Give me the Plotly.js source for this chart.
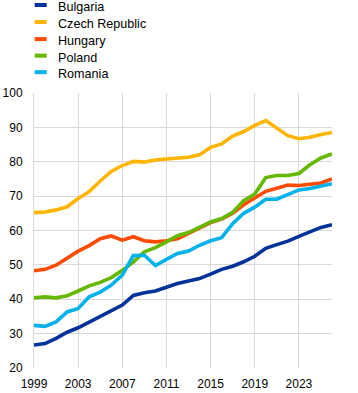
<!DOCTYPE html>
<html>
<head>
<meta charset="utf-8">
<script src="https://cdn.plot.ly/plotly-3.0.1.min.js"></script>
<style>
html,body{margin:0;padding:0;background:#fff;}
#chart{width:358px;height:393px;}
</style>
</head>
<body>
<div id="chart"></div>
<script>
const years = [1999,2000,2001,2002,2003,2004,2005,2006,2007,2008,2009,2010,2011,2012,2013,2014,2015,2016,2017,2018,2019,2020,2021,2022,2023,2024,2025,2026];
const seriesNames = ["Bulgaria","Czech Republic","Hungary","Poland","Romania"];
const bulgaria = [26.7,27.1,28.6,30.4,31.7,33.4,35.1,36.6,38.3,41.1,41.9,42.4,43.4,44.6,45.3,46.0,47.3,48.7,49.6,50.9,52.5,54.8,55.9,56.9,58.3,59.6,60.9,61.7];
const czech = [65.2,65.4,66.0,66.9,69.3,71.3,74.4,77.2,78.9,80.1,79.9,80.5,80.8,81.0,81.3,82.0,84.2,85.2,87.5,88.8,90.6,92.0,89.8,87.6,86.7,87.1,87.9,88.5];
const hungary = [48.3,48.7,49.9,52.0,54.0,55.6,57.6,58.4,57.2,58.2,57.0,56.7,57.0,57.6,59.1,60.8,62.3,63.3,65.0,67.5,69.5,71.4,72.3,73.2,73.1,73.4,73.8,75.0];
const poland = [40.4,40.7,40.4,41.0,42.4,43.9,44.9,46.3,48.4,50.8,53.8,55.0,56.7,58.5,59.4,61.0,62.5,63.5,65.3,68.7,70.6,75.4,76.0,76.0,76.6,79.1,81.1,82.3];
const romania = [32.4,32.1,33.4,36.3,37.3,40.7,42.1,44.1,47.0,52.7,52.8,49.8,51.6,53.3,54.0,55.7,57.0,57.9,62.0,65.0,66.8,69.1,69.1,70.4,71.8,72.2,72.8,73.6];
const xTickVals = [1999,2003,2007,2011,2015,2019,2023];
const yTickVals = [20,30,40,50,60,70,80,90,100];

const colors = ["#003299","#FFB400","#FF4B00","#65B800","#00B1EA"];
const values = [bulgaria, czech, hungary, poland, romania];
const traces = values.map((v, i) => ({
  x: years, y: v, type: 'scatter', mode: 'lines', name: seriesNames[i],
  line: {color: colors[i], width: 3.6}, showlegend: false, hoverinfo: 'skip'
}));

const L = 34.3, T = 93.3, W = 297.4, H = 274.4;
const legendY = [7.5, 24.5, 41.5, 58, 74.5];
const shapes = [], annotations = [];
seriesNames.forEach((n, i) => {
  const py = legendY[i] - 2;
  const yp = (T + H - py) / H;
  shapes.push({type:'line', xref:'paper', yref:'paper', x0:(35-L)/W, x1:(47-L)/W, y0:yp, y1:yp,
    line:{color:colors[i], width:4}});
  annotations.push({xref:'paper', yref:'paper', x:(56.5-L)/W, y:(T + H - legendY[i])/H,
    xanchor:'left', yanchor:'middle', text:n, showarrow:false,
    font:{family:'Liberation Sans, Arial, sans-serif', size:12.6, color:'#000'}});
});

const layout = {
  width: 358, height: 393,
  margin: {l: 34.3, r: 358 - 34.3 - 297.4, t: 93.3, b: 393 - 93.3 - 274.4, pad: 0},
  paper_bgcolor: '#fff', plot_bgcolor: '#fff',
  font: {family: 'Liberation Sans, Arial, sans-serif', size: 12, color: '#000'},
  xaxis: {range: [1999, 2026], tickvals: xTickVals, ticktext: xTickVals.map(String),
    showgrid: true, gridcolor: '#d9d9d9', gridwidth: 1, zeroline: false,
    showline: false, ticks: 'outside', ticklen: 5, tickcolor: 'rgba(0,0,0,0)',
    tickfont: {size: 12, color: '#000'}, fixedrange: true},
  yaxis: {range: [20, 100], tickvals: yTickVals, ticktext: yTickVals.map(String),
    showgrid: true, gridcolor: '#d9d9d9', gridwidth: 1, zeroline: false,
    showline: true, linecolor: '#d9d9d9', linewidth: 1,
    ticks: 'outside', ticklen: 8, tickcolor: 'rgba(0,0,0,0)',
    tickfont: {size: 12, color: '#000'}, fixedrange: true},
  shapes: shapes, annotations: annotations, showlegend: false
};
Plotly.newPlot('chart', traces, layout, {displayModeBar: false, staticPlot: true});
</script>
</body>
</html>
